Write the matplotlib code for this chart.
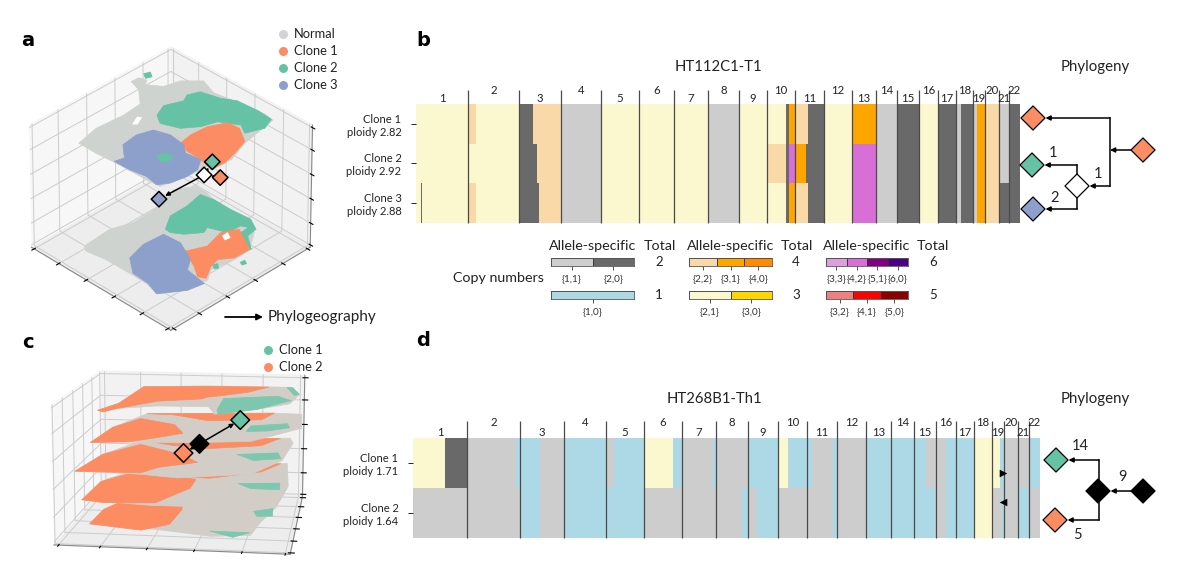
import matplotlib
matplotlib.use('Agg')
import matplotlib.pyplot as plt
from mpl_toolkits.mplot3d import art3d, proj3d

plt.rcParams['font.family'] = ['Lato', 'DejaVu Sans']

W, H = 1200, 564

NORMAL = '#CFD3CF'
ORANGE = '#FC8D62'
GREEN = '#66C2A5'
BLUE = '#8DA0CB'

# copy number state colours
cn_colors = {
    '1,0': '#ADD8E6', '1,1': '#CDCDCD', '2,0': '#696969',
    '2,1': '#FBF8CF', '3,0': '#FFD700', '2,2': '#FAD9A8',
    '3,1': '#FFA500', '4,0': '#FF8C00', '3,2': '#F08080',
    '4,1': '#FF0000', '5,0': '#8B0000', '3,3': '#DDA0DD',
    '4,2': '#D86FD6', '5,1': '#800080', '6,0': '#4B0082',
}

# panel b, run-length segments along the genome
b_bounds = [0, 52, 103, 145, 185, 223, 258, 292, 323, 351, 379, 408, 436, 460, 481, 503, 522, 540, 557, 569, 583, 593, 604]
b_row_labels = ['Clone 1\nploidy 2.82', 'Clone 2\nploidy 2.92', 'Clone 3\nploidy 2.88']
b_stops = [
    [52, 60, 103, 117, 145, 185, 292, 323, 370, 373, 379, 392, 408, 436, 460, 481, 503, 522, 540, 545, 557, 561, 569, 583, 593, 604],
    [103, 121, 145, 185, 292, 323, 351, 370, 373, 379, 390, 408, 436, 460, 481, 503, 522, 540, 545, 557, 561, 569, 583, 593, 604],
    [5, 6, 52, 60, 103, 123, 145, 185, 292, 323, 370, 373, 379, 392, 408, 436, 460, 481, 503, 522, 540, 545, 557, 561, 569, 583, 604],
]
b_codes = [
    ['2,1', '2,2', '2,1', '2,0', '2,2', '1,1', '2,1', '1,1', '2,1', '2,0', '3,1', '2,2', '2,0', '2,1', '3,1', '1,1', '2,0', '2,1', '2,0', '1,1', '2,0', '1,1', '3,1', '2,2', '1,1', '2,0'],
    ['2,1', '2,0', '2,2', '1,1', '2,1', '1,1', '2,1', '2,2', '2,0', '4,2', '3,1', '2,0', '2,1', '4,2', '1,1', '2,0', '2,1', '2,0', '1,1', '2,0', '1,1', '3,1', '2,2', '1,1', '2,0'],
    ['2,1', '2,0', '2,1', '2,2', '2,1', '2,0', '2,2', '1,1', '2,1', '1,1', '2,1', '2,0', '3,1', '2,2', '2,0', '2,1', '4,2', '1,1', '2,0', '2,1', '2,0', '1,1', '2,0', '1,1', '3,1', '2,2', '2,0'],
]

# panel d
d_bounds = [0, 54, 107, 151, 193, 231, 269, 303, 335, 365, 394, 424, 453, 478, 501, 523, 543, 561, 579, 591, 605, 616, 627]
d_row_labels = ['Clone 1\nploidy 1.71', 'Clone 2\nploidy 1.64']
d_stops = [
    [32, 54, 103, 127, 151, 193, 201, 231, 260, 269, 300, 303, 335, 365, 375, 399, 420, 424, 453, 513, 533, 561, 587, 591, 616, 627],
    [107, 127, 151, 231, 329, 336, 344, 365, 420, 424, 453, 523, 533, 561, 579, 589, 591, 605, 616, 627],
]
d_codes = [
    ['2,1', '2,0', '1,1', '1,0', '1,1', '1,0', '1,1', '1,0', '2,1', '1,0', '1,1', '1,0', '1,1', '1,0', '2,1', '1,0', '1,1', '1,0', '1,1', '1,0', '1,1', '1,0', '2,1', '1,0', '1,1', '1,0'],
    ['1,1', '1,0', '1,1', '1,0', '1,1', '1,0', '1,1', '1,0', '1,1', '1,0', '1,1', '1,0', '1,1', '1,0', '2,1', '1,1', '1,0', '1,1', '1,0', '1,1'],
]
d_marks_pos = [590, 590]
d_marks_row = [0.7, 1.28]
d_marks_kind = ['>', '<']

# copy number legend
leg_groups = [
    (['1,1', '2,0'], '2'), (['2,2', '3,1', '4,0'], '4'), (['3,3', '4,2', '5,1', '6,0'], '6'),
    (['1,0'], '1'), (['2,1', '3,0'], '3'), (['3,2', '4,1', '5,0'], '5'),
]

# panel a: tissue outlines for the two sections, read in section units
a_top = [
    (NORMAL, [(392, 180), (415, 168), (440, 175), (435, 190), (490, 195), (540, 178), (610, 178), (640, 215), (700, 240), (790, 280), (815, 300), (730, 370), (690, 420), (620, 440), (560, 470), (480, 500), (440, 480), (350, 430), (290, 400), (240, 370), (290, 325), (370, 285), (420, 250), (415, 205)]),
    (GREEN, [(470, 285), (490, 255), (550, 240), (560, 222), (600, 212), (660, 232), (710, 240), (770, 270), (810, 297), (790, 325), (730, 340), (720, 315), (650, 305), (600, 320), (540, 325), (480, 310)]),
    (ORANGE, [(540, 370), (570, 345), (620, 320), (680, 308), (715, 325), (730, 365), (700, 400), (670, 430), (630, 450), (600, 420), (560, 395)]),
    (BLUE, [(370, 375), (410, 345), (460, 330), (510, 345), (550, 375), (555, 400), (600, 420), (590, 450), (560, 470), (510, 490), (470, 495), (440, 470), (390, 450), (345, 425), (375, 415)]),
    (GREEN, [(470, 410), (490, 400), (520, 410), (505, 425), (480, 425)]),
    (GREEN, [(430, 155), (450, 150), (455, 165), (435, 170)]),
    ('white', [(398, 312), (412, 290), (425, 292), (412, 312)]),
]
a_bottom = [
    (NORMAL, [(255, 680), (330, 630), (400, 610), (480, 560), (520, 510), (590, 500), (620, 520), (640, 540), (680, 570), (750, 600), (760, 640), (745, 690), (700, 720), (630, 750), (620, 780), (570, 800), (470, 820), (440, 790), (390, 760), (320, 720), (260, 695)]),
    (GREEN, [(495, 630), (510, 590), (560, 560), (600, 525), (640, 540), (690, 570), (750, 600), (765, 630), (720, 620), (680, 640), (620, 625), (610, 640), (550, 645), (510, 640)]),
    (GREEN, [(720, 640), (750, 620), (765, 630), (740, 650), (750, 690), (725, 680)]),
    (ORANGE, [(555, 695), (620, 680), (660, 640), (715, 630), (745, 690), (700, 715), (650, 720), (630, 740), (615, 775), (590, 770), (580, 740)]),
    (BLUE, [(390, 715), (430, 675), (490, 645), (540, 670), (570, 720), (560, 750), (610, 790), (560, 810), (470, 820), (445, 790), (400, 760)]),
    ('white', [(665, 650), (680, 640), (688, 655), (672, 662)]),
    (GREEN, [(635, 735), (650, 732), (652, 745), (640, 748)]),
    (GREEN, [(716, 728), (730, 722), (735, 732), (722, 736)]),
]
a_heights = [0.85, 0.2]
a_node_zx = [637, 612, 660, 478]
a_node_zy = [427, 467, 475, 540]
a_node_fc = [GREEN, 'white', ORANGE, BLUE]
a_arrows = [(2, 1), (1, 0), (1, 3)]

# panel c: five sections
C_GREY = '#D3CDC8'
C_GREEN = '#7CC7AE'
c_sections = [
    [(C_GREY, [(285, 245), (340, 225), (410, 170), (600, 170), (860, 180), (868, 205), (820, 235), (720, 250), (600, 262), (590, 240), (450, 235), (340, 240)]),
     (ORANGE, [(285, 245), (340, 225), (410, 170), (600, 172), (790, 178), (720, 195), (640, 205), (590, 210), (580, 215), (450, 220), (340, 240), (300, 250)]),
     (C_GREEN, [(610, 250), (640, 215), (800, 210), (830, 225), (720, 250), (610, 262)]),
     (C_GREEN, [(845, 180), (862, 182), (866, 205), (850, 208)])],
    [(C_GREY, [(265, 340), (320, 300), (420, 260), (810, 265), (890, 270), (870, 310), (800, 325), (700, 345), (500, 345), (340, 340)]),
     (ORANGE, [(265, 340), (320, 300), (400, 275), (500, 295), (520, 320), (450, 330), (370, 340)]),
     (ORANGE, [(420, 260), (810, 265), (760, 285), (600, 285), (500, 265)]),
     (C_GREEN, [(720, 303), (830, 298), (830, 310), (760, 318), (700, 318)])],
    [(C_GREY, [(222, 425), (290, 385), (400, 350), (860, 350), (860, 365), (800, 410), (700, 440), (500, 445), (400, 435)]),
     (ORANGE, [(222, 425), (290, 385), (400, 360), (520, 390), (560, 410), (450, 420), (400, 432)]),
     (ORANGE, [(400, 348), (830, 350), (760, 370), (600, 375), (500, 365)]),
     (C_GREEN, [(680, 392), (800, 390), (800, 405), (720, 408)])],
    [(C_GREY, [(240, 510), (300, 465), (400, 440), (850, 435), (820, 490), (780, 520), (560, 530), (430, 525)]),
     (ORANGE, [(240, 510), (285, 470), (400, 445), (560, 470), (540, 490), (440, 520), (300, 517)]),
     (ORANGE, [(430, 435), (830, 435), (760, 455), (600, 468), (500, 460)]),
     (C_GREEN, [(680, 482), (800, 483), (790, 498), (710, 494)])],
    [(C_GREY, [(255, 595), (290, 565), (400, 525), (860, 525), (800, 570), (740, 600), (700, 625), (590, 625), (450, 610)]),
     (ORANGE, [(255, 595), (290, 565), (400, 530), (530, 545), (520, 570), (480, 600), (400, 610)]),
     (ORANGE, [(600, 535), (810, 520), (720, 545), (640, 545)]),
     (C_GREEN, [(730, 577), (790, 572), (780, 588), (735, 588)]),
     (C_GREEN, [(590, 615), (700, 620), (650, 628)])],
]
c_heights = [0.90, 0.68, 0.47, 0.27, 0.01]
c_node_zx = [730, 578, 526]
c_node_zy = [292, 363, 387]
c_node_fc = [GREEN, 'black', ORANGE]
c_arrows = [(1, 2), (1, 0)]

# phylogeny trees
b_tree_x = [13, 12, 13, 57, 123]
b_tree_y = [18, 65, 109, 86, 50]
b_tree_fc = [ORANGE, GREEN, BLUE, 'white', ORANGE]
b_clades = [(4, [0, 3], 90), (3, [1, 2], 57)]
b_tree_text = [('1', 33, 53), ('1', 78, 74), ('2', 35, 98)]

d_tree_x = [16, 15, 58, 103]
d_tree_y = [30, 90, 61, 61]
d_tree_fc = [GREEN, ORANGE, 'black', 'black']
d_clades = [(3, [2], 103), (2, [0, 1], 59)]
d_tree_text = [('14', 40, 16), ('9', 82, 47), ('5', 37, 105)]


def rect(x0, y0, x1, y1):
    return [x0 / W, 1 - y1 / H, (x1 - x0) / W, (y1 - y0) / H]


def label(x, y, s, **kw):
    kw.setdefault('ha', 'center')
    kw.setdefault('va', 'center')
    kw.setdefault('color', '#222222')
    fig.text(x / W, 1 - y / H, s, **kw)


def copy_heatmap(box, bounds, stops, codes, row_labels, line_top, low, high):
    ax = fig.add_axes(rect(*box))
    for row in range(len(stops)):
        starts = [0] + stops[row][:-1]
        widths = [b - a for a, b in zip(starts, stops[row])]
        ax.barh(row + 0.5, widths, left=starts, height=1,
                color=[cn_colors[c] for c in codes[row]], linewidth=0)
    ax.set_xlim(bounds[0], bounds[-1])
    ax.set_ylim(len(stops), 0)
    ax.vlines(bounds[1:-1], len(stops), line_top, color='#4a4a4a', lw=0.9, clip_on=False, zorder=3)
    for i in range(22):
        ax.text((bounds[i] + bounds[i + 1]) / 2, low if i % 2 == 0 else high, str(i + 1),
                ha='center', va='center', fontsize=8.2, color='#222222')
    ax.set_xticks([])
    ax.set_yticks([r + 0.5 for r in range(len(stops))], row_labels)
    ax.tick_params(axis='y', length=3.5, width=0.7, labelsize=8, pad=7, colors='#222222')
    for s in ax.spines.values():
        s.set_visible(False)
    return ax


def tree(box, xs, ys, fcs, clades, texts, size):
    ax = fig.add_axes(rect(*box))
    ax.set_xlim(0, box[2] - box[0])
    ax.set_ylim(box[3] - box[1], 0)
    ax.axis('off')
    head = dict(arrowstyle='-|>', mutation_scale=7, lw=1.1, color='black', shrinkA=0, shrinkB=0)
    for parent, kids, bus in clades:
        if bus != xs[parent]:
            ax.annotate('', (bus, ys[parent]), (xs[parent], ys[parent]), arrowprops=head)
        all_y = [ys[k] for k in kids] + [ys[parent]]
        ax.plot([bus, bus], [min(all_y), max(all_y)], color='black', lw=1.1, zorder=1)
        for k in kids:
            ax.annotate('', (xs[k] + 12.5, ys[k]), (bus, ys[k]), arrowprops=head)
    ax.scatter(xs, ys, s=size, marker='D', c=fcs, edgecolors='black', linewidths=0.9, zorder=4, clip_on=False)
    for s, x, y in texts:
        ax.text(x, y, s, ha='center', va='center', fontsize=10.5, color='#222222')


def cube(box, elev, azim, aspect, zoom, focal):
    ax = fig.add_axes(rect(*box), projection='3d', computed_zorder=False)
    ax.patch.set_alpha(0)
    ax.view_init(elev=elev, azim=azim)
    ax.set_proj_type('persp', focal_length=focal)
    ax.set_box_aspect(aspect, zoom=zoom)
    ax.set_xlim(0, 1)
    ax.set_ylim(0, 1)
    ax.set_zlim(0, 1)
    ticks = [0.02, 0.2, 0.4, 0.6, 0.8, 0.98]
    ax.set_xticks(ticks, [''] * 6)
    ax.set_yticks(ticks, [''] * 6)
    ax.set_zticks(ticks, [''] * 6)
    for axis, shade in zip((ax.xaxis, ax.yaxis, ax.zaxis), (0.97, 0.95, 0.93)):
        axis._axinfo['grid'].update(color='#cccccc', linewidth=0.7)
        axis.line.set_color('#888888')
        axis.set_pane_color((shade, shade, shade, 1))
    return ax


def section_a(zx, zy, z):
    across = (zx - 513) / 417
    depth = (zy - (444 - 369 * z)) / 243
    return (across + depth) / 2, (across - depth + 2) / 2


def section_c(zx, zy, z):
    dx = zx - 170
    dy = zy - (636 - 406 * z)
    return (114 * dx + 108 * dy) / 73596, (27 * dx - 620 * dy) / 73596


def draw_polys(ax, polys, z, convert, order):
    for i, (color, outline) in enumerate(polys):
        verts = [(*convert(px, py, z), z) for px, py in outline]
        ax.add_collection3d(art3d.Poly3DCollection([verts], facecolors=color, edgecolors=color,
                                                    linewidths=0.5, zorder=order + i, shade=False))


def draw_nodes(ax, zxs, zys, z, convert, fcs, arrows, size):
    xs, ys = zip(*[convert(a, b, z) for a, b in zip(zxs, zys)])
    zs = [z] * len(xs)
    proj = ax.get_proj()
    sx, sy, _ = proj3d.proj_transform(xs, ys, zs, proj)
    for a, b in arrows:
        ax.annotate('', (sx[b], sy[b]), (sx[a], sy[a]), zorder=70,
                    arrowprops=dict(arrowstyle='-|>', mutation_scale=6, lw=1.1, color='black',
                                    shrinkA=0, shrinkB=5))
    ax.scatter(xs, ys, zs, s=size, marker='D', c=fcs, edgecolors='black', linewidths=1.1,
               depthshade=False, zorder=80)


fig = plt.figure(figsize=(W / 100, H / 100), dpi=100, facecolor='white')

# a
ax_a = cube((-6, 31, 339, 351), 35, -45, (4, 4, 3), 0.965, 3)
draw_polys(ax_a, a_bottom, a_heights[1], section_a, 10)
draw_polys(ax_a, a_top, a_heights[0], section_a, 30)
draw_nodes(ax_a, a_node_zx, a_node_zy, 0.5, section_a, a_node_fc, a_arrows, 62)

# c
ax_c = cube((14, 341, 354, 575), 12, -82, (4, 4, 2.4), 1.41, 1)
for k, sec in enumerate(c_sections):
    draw_polys(ax_c, sec, c_heights[k], section_c, 50 - 8 * k)
draw_nodes(ax_c, c_node_zx, c_node_zy, 0.47, section_c, c_node_fc, c_arrows, 90)

# b and d
copy_heatmap((416, 104, 1020, 223), b_bounds, b_stops, b_codes, b_row_labels, -0.35, -0.13, -0.33)
ax_d = copy_heatmap((413, 438, 1040, 538), d_bounds, d_stops, d_codes, d_row_labels, -0.34, -0.12, -0.3)
ax_d.scatter(d_marks_pos[0], d_marks_row[0], marker=d_marks_kind[0], s=30, color='black', zorder=4, linewidths=0)
ax_d.scatter(d_marks_pos[1], d_marks_row[1], marker=d_marks_kind[1], s=30, color='black', zorder=4, linewidths=0)

tree((1020, 100, 1160, 225), b_tree_x, b_tree_y, b_tree_fc, b_clades, b_tree_text, 150)
tree((1040, 430, 1160, 550), d_tree_x, d_tree_y, d_tree_fc, d_clades, d_tree_text, 150)

# copy number legend bars
leg_x = [(551, 634), (689, 772), (826, 908)]
leg_y = [(258, 266), (291, 299)]
for i, (keys, total) in enumerate(leg_groups):
    x0, x1 = leg_x[i % 3]
    y0, y1 = leg_y[i // 3]
    ax = fig.add_axes(rect(x0, y0, x1, y1))
    ax.bar(range(len(keys)), [1] * len(keys), width=1, color=[cn_colors[k] for k in keys],
           edgecolor='#333333', linewidth=0.6)
    ax.set_xlim(-0.5, len(keys) - 0.5)
    ax.set_ylim(0, 1)
    ax.set_yticks([])
    ax.set_xticks(range(len(keys)), ['{' + k + '}' for k in keys])
    ax.tick_params(axis='x', length=3, width=0.6, labelsize=7.2, pad=3, colors='#333333')
    for s in ax.spines.values():
        s.set_linewidth(0.6)
        s.set_color('#555555')
    label((x1 + [25, 24, 25][i % 3]), (y0 + y1) / 2, total, fontsize=9.5)

for cx, tx in [(593, 660), (731, 797), (867, 933)]:
    label(cx, 246, 'Allele-specific', fontsize=10.3)
    label(tx, 246, 'Total', fontsize=10.3)
label(498, 278, 'Copy numbers', fontsize=10.3)

# titles
label(718, 67, 'HT112C1-T1', fontsize=10.7)
label(1095, 67, 'Phylogeny', fontsize=10.8)
label(714, 399, 'HT268B1-Th1', fontsize=10.7)
label(1095, 399, 'Phylogeny', fontsize=10.8)

for s, x, y in [('a', 28, 41), ('b', 423, 41), ('c', 28, 342), ('d', 423, 340)]:
    label(x, y, s, fontsize=14, fontweight='bold', family='DejaVu Sans', color='black')

# legends for a and c, in figure space
over = fig.add_axes([0, 0, 1, 1])
over.set_xlim(0, W)
over.set_ylim(H, 0)
over.axis('off')
over.patch.set_alpha(0)
for y, c, s in zip([34, 51, 68, 85], ['#D3D3D3', ORANGE, GREEN, BLUE], ['Normal', 'Clone 1', 'Clone 2', 'Clone 3']):
    over.scatter([283], [y], s=42, color=c, linewidths=0)
    over.text(294, y, s, va='center', fontsize=9.3, color='#222222')
for y, c, s in zip([350, 367], [GREEN, ORANGE], ['Clone 1', 'Clone 2']):
    over.scatter([268], [y], s=42, color=c, linewidths=0)
    over.text(279, y, s, va='center', fontsize=9.3, color='#222222')
over.annotate('', (263, 317), (225, 317), arrowprops=dict(arrowstyle='-|>', mutation_scale=9, lw=1.3, color='black', shrinkA=0, shrinkB=0))
over.text(268, 317, 'Phylogeography', va='center', fontsize=11, color='#222222')

fig.savefig('out.png', dpi=100)
